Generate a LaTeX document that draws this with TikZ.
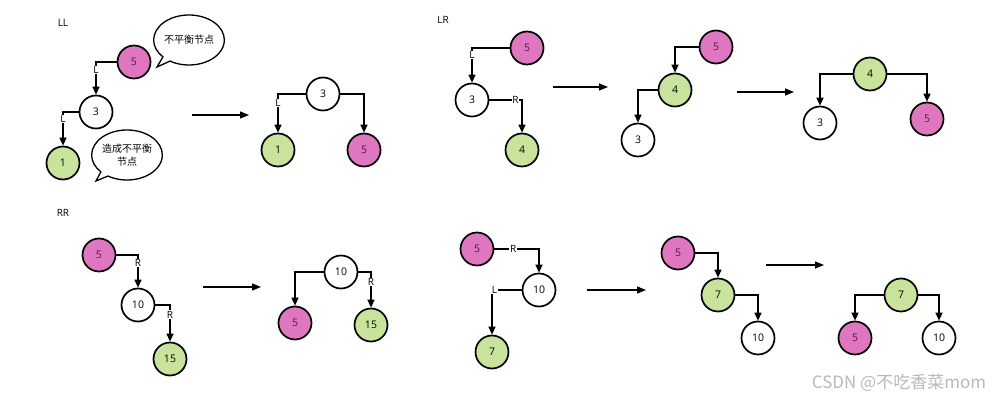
\documentclass[tikz,border=0pt]{standalone}
\usepackage{fontspec}
\setmainfont{Open Sans}
\newfontfamily\cjk{Noto Sans CJK SC}
\usetikzlibrary{arrows.meta,shapes.callouts}
\definecolor{pinkfill}{RGB}{222,118,192}
\definecolor{pinktext}{RGB}{90,20,80}
\definecolor{greenfill}{RGB}{200,228,156}
\definecolor{wmgray}{RGB}{185,185,185}
\tikzset{
  tn/.style={circle,draw=black,line width=1.7pt,minimum size=33pt,inner sep=0pt,font=\fontsize{10.5}{12}\selectfont},
  pk/.style={tn,fill=pinkfill,text=pinktext},
  gn/.style={tn,fill=greenfill},
  wt/.style={tn,fill=white},
  conn/.style={draw=black,line width=1.3pt,-{Triangle[length=8pt,width=7pt]}},
  trans/.style={draw=black,line width=1.4pt,-{Triangle[length=9pt,width=7pt]}},
  elab/.style={fill=white,inner sep=0.6pt,font=\fontsize{10}{11}\selectfont},
  case/.style={font=\fontsize{10}{11}\selectfont},
  bubble/.style={ellipse callout,draw=black,line width=1.3pt,fill=white,minimum width=65pt,minimum height=50pt,inner sep=0pt,align=center,font=\cjk\fontsize{10}{13}\selectfont},
}
\begin{document}
\begin{tikzpicture}[x=1pt,y=-1pt]
\useasboundingbox (0,0) rectangle (997,401);
\fill[white] (0,0) rectangle (997,401);

% ---------- LL ----------
\node[case] (tLL) at (63,23) {LL};
\node[pk] (ll5) at (134,62) {5};
\node[wt] (ll3) at (96,112) {3};
\node[gn] (ll1) at (63,163) {1};
\draw[conn] (ll5.west) -| node[elab,pos=0.62] {L} (ll3.north);
\draw[conn] (ll3.west) -| node[elab,pos=0.6] {L} (ll1.north);
\node[bubble,callout absolute pointer={(157,67)}] (b1) at (189,40) {不平衡节点};
\node[bubble,callout absolute pointer={(96,181)}] (b2) at (127,155) {造成不平衡\\节点};

\coordinate (a1s) at (192,115);
\coordinate (a1e) at (249,115);
\draw[trans] (a1s) -- (a1e);

\node[wt] (lr3a) at (323,94) {3};
\node[gn] (lr1a) at (278,150) {1};
\node[pk] (lr5a) at (364,150) {5};
\draw[conn] (lr3a.west) -| node[elab,pos=0.62] {L} (lr1a.north);
\draw[conn] (lr3a.east) -| (lr5a.north);

% ---------- RR ----------
\node[case] (tRR) at (63,213) {RR};
\node[pk] (rr5) at (99,255) {5};
\node[wt] (rr10) at (138,305) {10};
\node[gn] (rr15) at (170,359) {15};
\draw[conn] (rr5.east) -| node[elab,pos=0.62] {R} (rr10.north);
\draw[conn] (rr10.east) -| node[elab,pos=0.63] {R} (rr15.north);

\coordinate (a2s) at (203,287);
\coordinate (a2e) at (261,287);
\draw[trans] (a2s) -- (a2e);

\node[wt] (rrb10) at (341,272) {10};
\node[pk] (rrb5) at (295,323) {5};
\node[gn] (rrb15) at (371,325) {15};
\draw[conn] (rrb10.west) -| (rrb5.north);
\draw[conn] (rrb10.east) -| node[elab,pos=0.64] {R} (rrb15.north);

% ---------- LR ----------
\node[case] (tLR) at (443,20) {LR};
\node[pk] (lr5) at (527,48) {5};
\node[wt] (lr3) at (472,100) {3};
\node[gn] (lr4) at (522,150) {4};
\draw[conn] (lr5.west) -| node[elab,pos=0.6] {L} (lr3.north);
\draw[conn] (lr3.east) -| node[elab,pos=0.4] {R} (lr4.north);

\coordinate (a3s) at (553,87);
\coordinate (a3e) at (608,87);
\draw[trans] (a3s) -- (a3e);

\node[pk] (lm5) at (716,47) {5};
\node[gn] (lm4) at (675,90) {4};
\node[wt] (lm3) at (638,140) {3};
\draw[conn] (lm5.west) -| (lm4.north);
\draw[conn] (lm4.west) -| (lm3.north);

\coordinate (a4s) at (737,92);
\coordinate (a4e) at (794,92);
\draw[trans] (a4s) -- (a4e);

\node[gn] (lf4) at (870,74) {4};
\node[wt] (lf3) at (820,123) {3};
\node[pk] (lf5) at (927,119) {5};
\draw[conn] (lf4.west) -| (lf3.north);
\draw[conn] (lf4.east) -| (lf5.north);

% ---------- RL ----------
\node[pk] (rl5) at (477,249) {5};
\node[wt] (rl10) at (539,290) {10};
\node[gn] (rl7) at (492,352) {7};
\draw[conn] (rl5.east) -| node[elab,pos=0.21] {R} (rl10.north);
\draw[conn] (rl10.west) -| node[elab,pos=0.46] {L} (rl7.north);

\coordinate (a5s) at (587,290);
\coordinate (a5e) at (646,290);
\draw[trans] (a5s) -- (a5e);

\node[pk] (rm5) at (678,253) {5};
\node[gn] (rm7) at (718,295) {7};
\node[wt] (rm10) at (758,338) {10};
\draw[conn] (rm5.east) -| (rm7.north);
\draw[conn] (rm7.east) -| (rm10.north);

\coordinate (a6s) at (766,265);
\coordinate (a6e) at (824,265);
\draw[trans] (a6s) -- (a6e);

\node[gn] (rf7) at (901,295) {7};
\node[pk] (rf5) at (855,338) {5};
\node[wt] (rf10) at (939,338) {10};
\draw[conn] (rf7.west) -| (rf5.north);
\draw[conn] (rf7.east) -| (rf10.north);

% watermark
\node[text=wmgray,font=\cjk\fontsize{17}{20}\selectfont,inner sep=0pt] (wm) at (899,383) {CSDN @不吃香菜mom};
\end{tikzpicture}
\end{document}
